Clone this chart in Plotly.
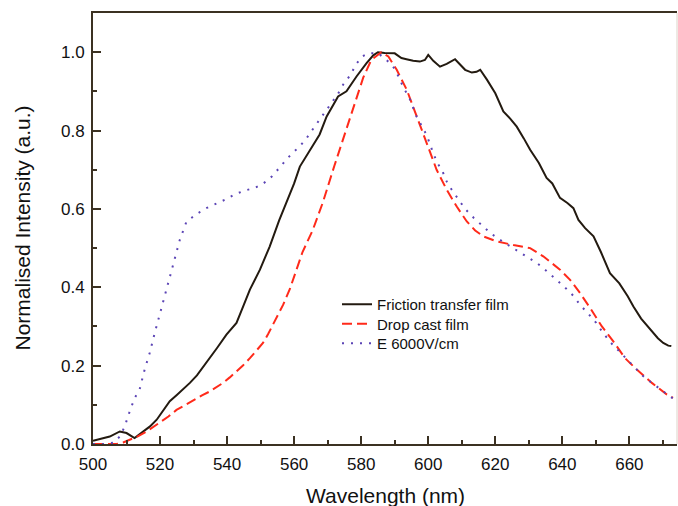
import plotly.graph_objects as go

# ---------------- data ----------------
friction_x = [500, 502, 505, 508, 510, 512.4, 515, 517, 519, 521, 522.9, 525, 526.9, 528.9, 531,
              533.8, 537, 539.8, 542.8, 544.5, 546.8, 549.8, 552.7, 555.5, 558, 560, 561.7, 564.7,
              567.6, 569.7, 571.5, 573.1, 575.6, 578.6, 581.6, 583.6, 585, 587, 590, 592, 593.5,
              595.5, 597.5, 599, 600, 601.5, 603.5, 605.5, 608, 609.5, 611, 613, 614.4, 615.5,
              617.5, 620, 622.4, 624.5, 626.4, 628.5, 630.4, 633, 635.3, 637, 639.3, 641.5, 643.3,
              644.8, 646.8, 649.3, 651.5, 654.2, 657, 659.5, 661.2, 663.5, 666.2, 668.5, 670.1,
              671.6, 672.5]
friction_y = [0.008, 0.012, 0.019, 0.032, 0.028, 0.015, 0.032, 0.045, 0.062, 0.085, 0.109, 0.125,
              0.139, 0.156, 0.175, 0.207, 0.245, 0.279, 0.309, 0.345, 0.394, 0.445, 0.504, 0.57,
              0.625, 0.665, 0.708, 0.751, 0.79, 0.836, 0.862, 0.887, 0.9, 0.938, 0.972, 0.992, 1.0,
              0.998, 0.997, 0.985, 0.982, 0.978, 0.976, 0.98, 0.993, 0.978, 0.963, 0.97, 0.982,
              0.968, 0.955, 0.948, 0.95, 0.955, 0.93, 0.895, 0.849, 0.83, 0.81, 0.78, 0.751, 0.717,
              0.679, 0.665, 0.628, 0.615, 0.602, 0.572, 0.551, 0.53, 0.49, 0.436, 0.41, 0.377,
              0.351, 0.32, 0.292, 0.27, 0.258, 0.251, 0.25]

drop_x = [500, 504, 507, 509, 511, 513.5, 516, 518, 519.9, 522.5, 524.9, 527.5, 529.9, 532.5,
          534.8, 536.8, 538.8, 540.8, 542.8, 544.8, 546.8, 548.8, 550.7, 552.2, 553.7, 555.2,
          556.7, 558.7, 560.5, 562.5, 565.5, 568.5, 572, 575.5, 578, 580.6, 583, 586, 588.1,
          590.6, 593.6, 596.5, 599.5, 602.5, 605.5, 608.5, 611.5, 614, 616.4, 620.4, 625.4,
          630.4, 634.3, 639.3, 642.3, 645.3, 648.3, 651.8, 655.2, 658.7, 662.2, 666.7, 671.2, 673]
drop_y = [0.0, 0.0, 0.0, 0.004, 0.011, 0.02, 0.032, 0.043, 0.054, 0.07, 0.087, 0.1, 0.113,
          0.124, 0.134, 0.145, 0.156, 0.17, 0.185, 0.201, 0.219, 0.238, 0.258, 0.28, 0.305,
          0.33, 0.355, 0.395, 0.44, 0.49, 0.545, 0.615, 0.71, 0.8, 0.87, 0.935, 0.98, 1.0,
          0.989, 0.955, 0.904, 0.836, 0.768, 0.7, 0.649, 0.606, 0.568, 0.545, 0.53, 0.517,
          0.508, 0.5, 0.479, 0.445, 0.419, 0.385, 0.347, 0.3, 0.262, 0.219, 0.19, 0.156,
          0.126, 0.118]

field_x = [500, 503, 506, 508, 509.5, 510.4, 512.4, 513.9, 515.4, 516.9, 518.4, 519.9, 521.4,
           522.9, 524.4, 525.9, 527.9, 529.5, 531.3, 533.8, 536.8, 539.8, 542.5, 545.3, 548.1,
           550.7, 553.4, 555.7, 558.2, 560.7, 563.2, 565.2, 567.2, 569.2, 571.2, 573.1, 574.6,
           576.8, 578.5, 580.5, 582.1, 585.1, 587.6, 590.1, 592.7, 594.3, 596.5, 598, 599.5,
           601.5, 602.7, 604.3, 605.5, 607, 609, 611, 613.6, 616, 618.6, 621.4, 624.2, 626.9,
           629.6, 632.4, 635.1, 637.8, 640.5, 643.3, 645.3, 647.8, 650.1, 652.2, 654.4, 656.7,
           659, 661.4, 664, 666.7, 669.4, 671.6, 673]
field_y = [0.0, 0.0, 0.003, 0.019, 0.045, 0.07, 0.117, 0.139, 0.19, 0.232, 0.283, 0.33, 0.381,
           0.428, 0.474, 0.521, 0.568, 0.578, 0.589, 0.602, 0.613, 0.625, 0.638, 0.647, 0.653,
           0.664, 0.683, 0.707, 0.731, 0.752, 0.774, 0.799, 0.823, 0.848, 0.87, 0.894, 0.917,
           0.942, 0.97, 0.99, 0.997, 0.997, 0.98, 0.957, 0.908, 0.885, 0.836, 0.812, 0.789,
           0.742, 0.718, 0.695, 0.67, 0.649, 0.623, 0.6, 0.577, 0.557, 0.538, 0.521, 0.506,
           0.49, 0.476, 0.462, 0.443, 0.423, 0.402, 0.378, 0.355, 0.332, 0.309, 0.283, 0.259,
           0.239, 0.219, 0.198, 0.174, 0.156, 0.139, 0.124, 0.116]

series_names = ["Friction transfer film", "Drop cast film", "E 6000V/cm"]
x_ticks = [500, 520, 540, 560, 580, 600, 620, 640, 660]
y_ticks = [0.0, 0.2, 0.4, 0.6, 0.8, 1.0]
x_title = "Wavelength (nm)"
y_title = "Normalised Intensity (a.u.)"

# ---------------- styling ----------------
AXIS = "#3b3122"
FONT = "Liberation Sans, Arial, sans-serif"
W, H = 678, 506
ML, MR, MT, MB = 93, 1, 13, 62
PW, PH = W - ML - MR, H - MT - MB

fig = go.Figure()
fig.add_trace(go.Scatter(x=friction_x, y=friction_y, mode="lines", name=series_names[0],
                         legend="legend",
                         line=dict(color="#231a10", width=2)))
fig.add_trace(go.Scatter(x=drop_x, y=drop_y, mode="lines", name=series_names[1],
                         legend="legend2",
                         line=dict(color="#ff2a1a", width=2, dash="10px,5px")))
fig.add_trace(go.Scatter(x=field_x, y=field_y, mode="lines", name=series_names[2],
                         legend="legend3",
                         line=dict(color="#5b44b5", width=2, dash="2px,7px")))

def leg(row_center_px):
    # legend placed so that the item row is centred on the given pixel row
    return dict(x=(337 - ML) / PW, y=(MT + PH - row_center_px + 16) / PH,
                xanchor="left", yanchor="top", bgcolor="rgba(0,0,0,0)",
                borderwidth=0, font=dict(size=15, family=FONT, color="#111111"),
                itemwidth=30)

fig.update_layout(
    template="none",
    width=W, height=H,
    margin=dict(l=ML, r=MR, t=MT, b=MB, autoexpand=False),
    paper_bgcolor="white", plot_bgcolor="white",
    font=dict(family=FONT, color="#111111"),
    showlegend=True,
    legend=leg(304), legend2=leg(323.5), legend3=leg(343),
    xaxis=dict(range=[500, 674.2], tickvals=x_ticks, ticktext=[str(v) for v in x_ticks],
               ticks="inside", ticklen=8, tickwidth=1.5, tickcolor=AXIS,
               minor=dict(dtick=10, tick0=500, ticks="inside", ticklen=4, tickwidth=1.5, tickcolor=AXIS),
               showline=True, linecolor=AXIS, linewidth=2, mirror=True,
               showgrid=False, zeroline=False, automargin=False,
               tickfont=dict(size=17, family=FONT, color="#111111"), ticklabelstandoff=4),
    yaxis=dict(range=[0, 1.1], tickvals=y_ticks, ticktext=["%.1f" % v for v in y_ticks],
               ticks="inside", ticklen=8, tickwidth=1.5, tickcolor=AXIS,
               minor=dict(dtick=0.1, tick0=0, ticks="inside", ticklen=4, tickwidth=1.5, tickcolor=AXIS),
               showline=True, linecolor=AXIS, linewidth=2,
               showgrid=False, zeroline=False, automargin=False,
               tickfont=dict(size=17, family=FONT, color="#111111"), ticklabelstandoff=3),
    annotations=[
        dict(text=x_title, xref="paper", yref="paper", x=0.5, y=-(495 - MT - PH) / PH,
             xanchor="center", yanchor="middle", showarrow=False,
             font=dict(size=21, family=FONT, color="#111111")),
        dict(text=y_title, xref="paper", yref="paper", x=(22 - ML) / PW, y=0.5,
             xanchor="center", yanchor="middle", showarrow=False, textangle=-90,
             font=dict(size=21, family=FONT, color="#111111")),
    ],
    shapes=[dict(type="line", xref="paper", yref="paper", x0=1, x1=1, y0=0, y1=1,
                 line=dict(color="#ddd2c8", width=1))],
)

fig.write_html("out.html", config={"displayModeBar": False},
               post_script="document.body.style.margin='0';document.body.style.overflow='hidden';")
